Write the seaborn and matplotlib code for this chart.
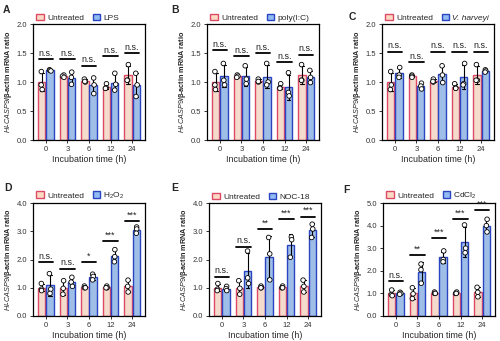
import numpy as np
import pandas as pd
import seaborn as sns
import matplotlib.pyplot as plt
from matplotlib.patches import Patch

sns.set_theme(style="ticks")
plt.rcParams["font.family"] = ["Liberation Sans", "DejaVu Sans"]
plt.rcParams["mathtext.fontset"] = "custom"
plt.rcParams["mathtext.it"] = "Liberation Sans:italic"
plt.rcParams["mathtext.rm"] = "Liberation Sans"

times = ["0", "3", "6", "12", "24"]

# replicate measurements (three per time point)
ctrl_top = [[1.18, 0.95, 0.87], [1.12, 1.10, 1.08], [1.05, 1.00, 1.01],
            [0.97, 0.90, 0.89], [1.30, 1.03, 1.03]]
ctrl_bot = [[1.15, 0.95, 0.90], [1.25, 0.98, 0.77], [1.06, 1.00, 1.00],
            [1.06, 1.00, 1.00], [1.27, 1.05, 0.85]]

lps = [[1.21, 1.20, 1.19], [1.17, 1.08, 0.96], [1.07, 0.95, 0.80],
       [1.15, 0.96, 0.86], [1.15, 0.95, 0.75]]
polyic = [[1.32, 1.03, 0.95], [1.28, 1.05, 0.97], [1.32, 1.00, 0.95],
          [1.16, 0.82, 0.76], [1.20, 1.08, 0.99]]
vharveyi = [[1.25, 1.12, 1.08], [0.98, 0.93, 0.88], [1.28, 1.12, 0.99],
            [1.32, 0.97, 0.95], [1.21, 1.19, 1.17]]
h2o2 = [[1.50, 0.95, 0.80], [1.37, 1.20, 1.05], [1.48, 1.40, 1.28],
        [2.35, 2.10, 1.92], [3.15, 3.08, 2.93]]
noc18 = [[1.05, 0.97, 0.90], [2.30, 1.35, 1.15], [2.78, 2.20, 1.28],
         [2.80, 2.70, 2.08], [3.25, 3.08, 2.78]]
cdcl2 = [[1.05, 1.00, 0.96], [2.30, 2.05, 1.45], [2.88, 2.50, 2.40],
         [4.03, 3.00, 2.80], [4.28, 4.00, 3.72]]

sig_labels = {
    "A": ["n.s.", "n.s.", "n.s.", "n.s.", "n.s."],
    "B": ["n.s.", "n.s.", "n.s.", "n.s.", "n.s."],
    "C": ["n.s.", "n.s.", "n.s.", "n.s.", "n.s."],
    "D": ["n.s.", "n.s.", "*", "***", "***"],
    "E": ["n.s.", "n.s.", "**", "***", "***"],
    "F": ["n.s.", "**", "***", "***", "***"],
}
sig_heights = {
    "A": [1.39, 1.39, 1.28, 1.44, 1.50],
    "B": [1.55, 1.44, 1.50, 1.34, 1.47],
    "C": [1.52, 1.34, 1.52, 1.52, 1.52],
    "D": [1.90, 1.68, 1.90, 2.65, 3.35],
    "E": [1.39, 2.45, 3.08, 3.44, 3.52],
    "F": [1.53, 2.69, 3.45, 4.30, 4.70],
}

# (letter, treatment, controls, treated, y max, y ticks, italic legend label)
panels = [
    ("A", "LPS", ctrl_top, lps, 2.0, [0, 0.5, 1.0, 1.5, 2.0], False),
    ("B", "poly(I:C)", ctrl_top, polyic, 2.0, [0, 0.5, 1.0, 1.5, 2.0], False),
    ("C", "V. harveyi", ctrl_top, vharveyi, 2.0, [0, 0.5, 1.0, 1.5, 2.0], True),
    ("D", r"H$_2$O$_2$", ctrl_bot, h2o2, 4.0, [0, 1, 2, 3, 4], False),
    ("E", "NOC-18", ctrl_bot, noc18, 4.0, [0, 1, 2, 3, 4], False),
    ("F", r"CdCl$_2$", ctrl_bot, cdcl2, 5.0, [0, 1, 2, 3, 4, 5], False),
]

ctrl_fill, ctrl_edge = "#fcdac4", "#dc4a66"
trt_fill, trt_edge = "#92bbf3", "#2a44c2"

W, H = 500, 341
fig = plt.figure(figsize=(5.0, 3.41), dpi=100)

# axes boxes in pixels: left, top, width, height
boxes = {
    "A": (33, 24, 112, 116), "B": (207, 24, 112, 116), "C": (382, 24, 112, 116),
    "D": (33, 203, 112, 113), "E": (209, 203, 112, 113), "F": (383, 203, 112, 113),
}
letter_pos = {"A": (3, 5), "B": (171, 5), "C": (349, 12),
              "D": (4, 183), "E": (171, 183), "F": (343, 185)}

for letter, trt_name, ctrl, trt, ymax, yticks, italic in panels:
    l, t, w, h = boxes[letter]
    ax = fig.add_axes([l / W, 1 - (t + h) / H, w / W, h / H])

    rows = []
    for grp, reps in (("Untreated", ctrl), (trt_name, trt)):
        for tm, vals in zip(times, reps):
            for v in vals:
                rows.append({"time": tm, "group": grp, "ratio": v})
    df = pd.DataFrame(rows)

    sns.barplot(data=df, x="time", y="ratio", hue="group", order=times,
                hue_order=["Untreated", trt_name], palette=[ctrl_fill, trt_fill],
                errorbar="sd", capsize=0.3, width=0.75, gap=0.12,
                err_kws={"color": "black", "linewidth": 0.8},
                linewidth=1.0, legend=False, ax=ax)
    for cont, ec in zip(ax.containers, [ctrl_edge, trt_edge]):
        for p in cont:
            p.set_edgecolor(ec)
            p.set_linewidth(1.0)

    sns.stripplot(data=df, x="time", y="ratio", hue="group", order=times,
                  hue_order=["Untreated", trt_name], palette=["white", "white"],
                  dodge=True, jitter=0.08, size=3.3, edgecolor="black",
                  linewidth=0.6, legend=False, ax=ax, zorder=5)

    for i, (lab, yh) in enumerate(zip(sig_labels[letter], sig_heights[letter])):
        ax.plot([i - 0.33, i + 0.33], [yh, yh], color="black", lw=1.3, zorder=6)
        ax.text(i, yh + ymax * 0.012, lab, ha="center", va="bottom",
                fontsize=6.4, color="#222222")

    ax.set_xlim(-0.6, 4.6)
    ax.set_ylim(0, ymax)
    ax.set_yticks(yticks)
    ax.set_yticklabels([f"{v:.1f}" for v in yticks])
    ax.tick_params(axis="both", labelsize=5.5, length=2.5, width=0.7, pad=1.5,
                   colors="#333333")
    for s in ax.spines.values():
        s.set_linewidth(0.9)
        s.set_color("black")
    ax.set_xlabel("Incubation time (h)", fontsize=6.4, labelpad=2)
    ax.set_ylabel(r"$\it{Hl}$-$\it{CASP9}$/β-actin mRNA ratio", fontsize=5.2,
                  fontweight="bold", labelpad=2)

    handles = [Patch(facecolor=ctrl_fill, edgecolor=ctrl_edge, linewidth=1.0),
               Patch(facecolor=trt_fill, edgecolor=trt_edge, linewidth=1.0)]
    leg = ax.legend(handles, ["Untreated", trt_name], loc="lower left",
                    bbox_to_anchor=(0.0, 0.99), ncol=2, frameon=False,
                    fontsize=6.0, handlelength=0.95, handleheight=0.85,
                    columnspacing=1.0, handletextpad=0.35, borderaxespad=0.1,
                    borderpad=0.3)
    if italic:
        leg.get_texts()[1].set_fontstyle("italic")

    lx, ly = letter_pos[letter]
    fig.text(lx / W, 1 - ly / H, letter, fontsize=7.5, fontweight="bold",
             ha="left", va="top")

fig.savefig("out.png", dpi=100)
